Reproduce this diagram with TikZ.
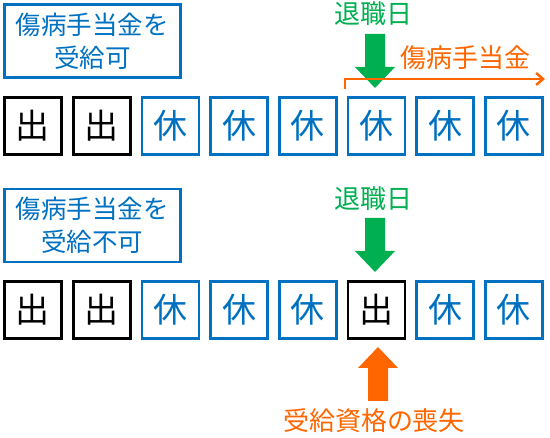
\documentclass[tikz,border=0pt]{standalone}
\usepackage{fontspec}
\setmainfont{Noto Sans CJK JP}
\usetikzlibrary{arrows.meta,calc,positioning}
\definecolor{LeaveBlue}{HTML}{0070C0}
\definecolor{RetireGreen}{HTML}{00B050}
\definecolor{BenefitOrange}{HTML}{FF6600}

\tikzset{
  daybox/.style={draw, line width=2.6pt, minimum width=57pt, minimum height=57pt, inner sep=0pt, font=\fontsize{34}{34}\selectfont},
  workday/.style={daybox, draw=black, text=black},
  restday/.style={daybox, draw=LeaveBlue, text=LeaveBlue},
  casebox/.style={draw=LeaveBlue, text=LeaveBlue, line width=2.6pt, minimum width=176pt, minimum height=73pt, inner sep=0pt, align=center, font=\fontsize{25.5}{33}\selectfont},
  marktext/.style={font=\fontsize{26}{26}\selectfont},
  blockarrow/.pic={\fill (-10,0) -- (10,0) -- (10,33) -- (20,33) -- (0,54) -- (-20,33) -- (-10,33) -- cycle;}
}

\begin{document}
\begin{tikzpicture}[x=1pt, y=-1pt, node distance=9.1pt]
  \useasboundingbox (0,0) rectangle (550,438);

  % upper case: benefit goes on after retirement
  \node[casebox] (caseA) at (92.5,41) {傷病手当金を\\受給可};
  \node[workday] (a1) at (33,126) {出};
  \node[workday, right=of a1] (a2) {出};
  \node[restday, right=of a2] (a3) {休};
  \node[restday, right=of a3] (a4) {休};
  \node[restday, right=of a4] (a5) {休};
  \node[restday, right=of a5] (a6) {休};
  \node[restday, right=of a6] (a7) {休};
  \node[restday, right=of a7] (a8) {休};

  \node[marktext, text=RetireGreen] (retAtext) at (373,14) {退職日};
  \pic[fill=RetireGreen] (retA) at (375,34) {blockarrow};

  \coordinate (payStart) at (345,89);
  \coordinate (payEnd) at (545,79);
  \draw[BenefitOrange, line width=2.5pt, -{Straight Barb[length=7pt,width=12pt]}] (payStart) |- (payEnd);
  \node[marktext, text=BenefitOrange] (payText) at (465,58) {傷病手当金};

  % lower case: worked on the last day
  \node[casebox] (caseB) at (92.5,225.5) {傷病手当金を\\受給不可};
  \node[workday] (b1) at (33,310) {出};
  \node[workday, right=of b1] (b2) {出};
  \node[restday, right=of b2] (b3) {休};
  \node[restday, right=of b3] (b4) {休};
  \node[restday, right=of b4] (b5) {休};
  \node[workday, right=of b5] (b6) {出};
  \node[restday, right=of b6] (b7) {休};
  \node[restday, right=of b7] (b8) {休};

  \node[marktext, text=RetireGreen] (retBtext) at (373,199) {退職日};
  \pic[fill=RetireGreen] (retB) at (375,218) {blockarrow};

  \pic[fill=BenefitOrange, rotate=180] (loss) at (378,401) {blockarrow};
  \node[marktext, text=BenefitOrange] (lossText) at (374,421) {受給資格の喪失};
\end{tikzpicture}
\end{document}
